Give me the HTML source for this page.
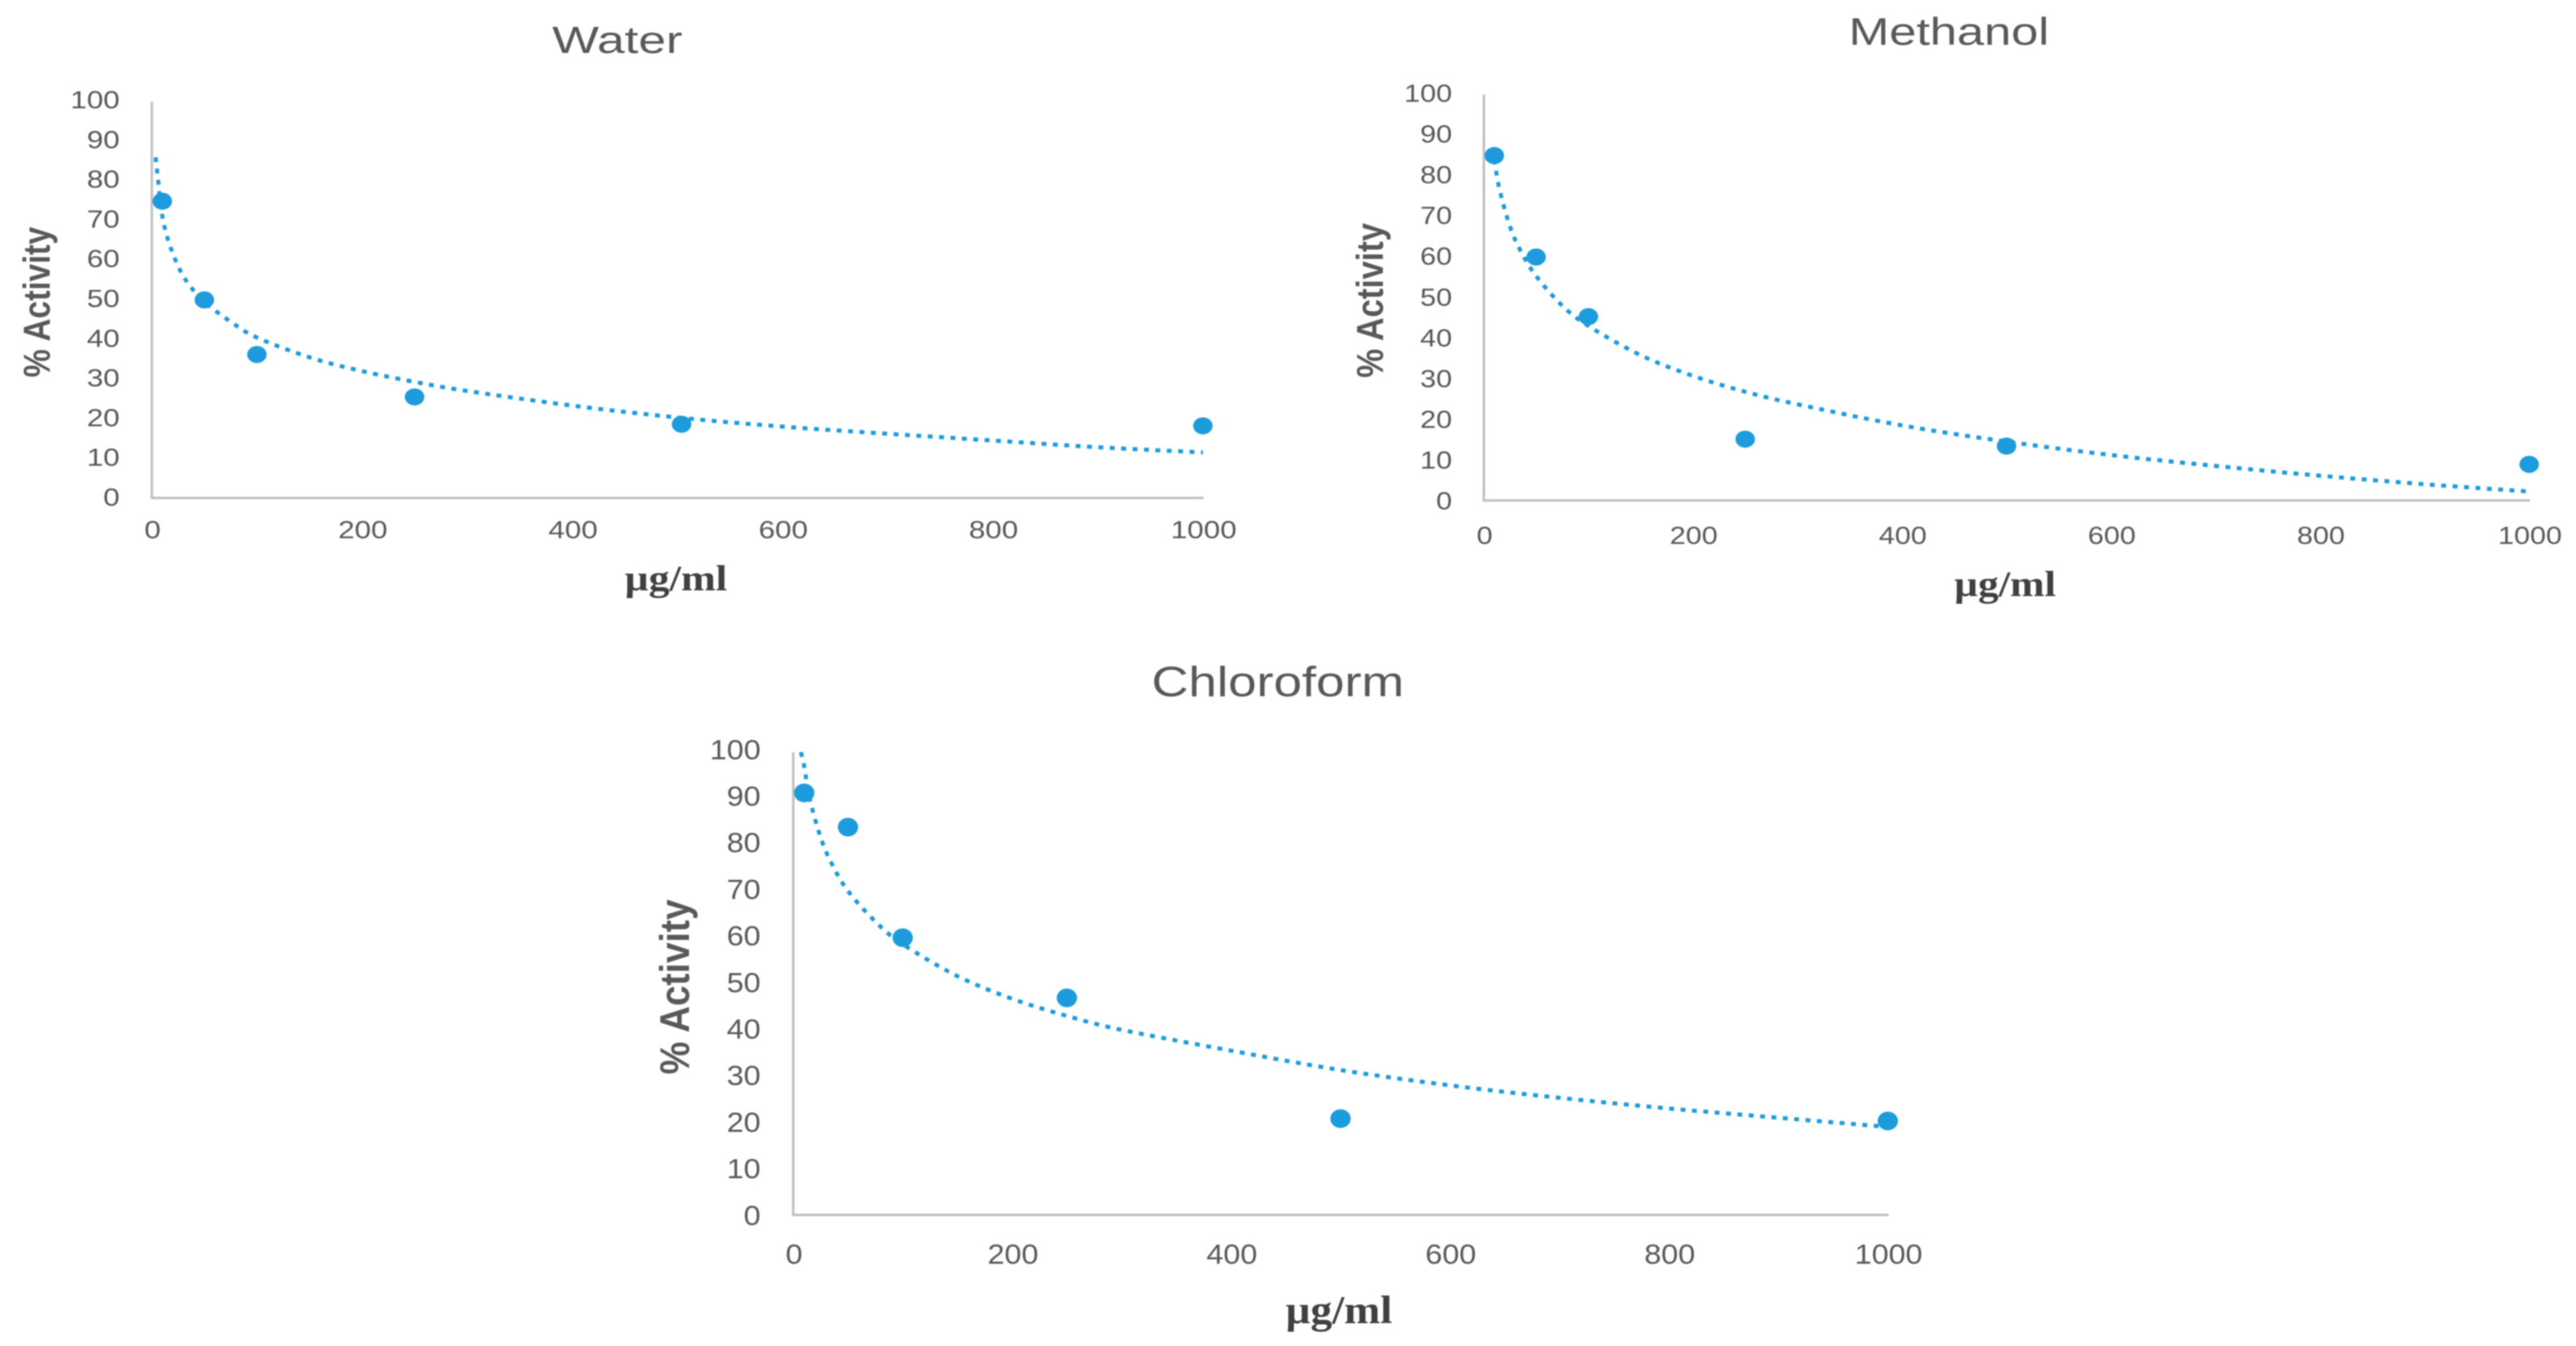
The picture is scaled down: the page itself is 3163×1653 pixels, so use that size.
<!DOCTYPE html>
<html lang="en">
<head>
<meta charset="utf-8">
<title>% Activity versus concentration</title>
<style>
html,body{margin:0;padding:0;background:#fff;width:3163px;height:1653px;overflow:hidden}
svg{display:block;filter:blur(0.7px)}
</style>
</head>
<body>
<svg id="figure" xmlns="http://www.w3.org/2000/svg" width="3163" height="1653" viewBox="0 0 3163 1653"></svg>
<script>
// Shared axis ticks
const xTickLabels = [0, 200, 400, 600, 800, 1000];
const yTickLabels = [0, 10, 20, 30, 40, 50, 60, 70, 80, 90, 100];

// Water
const waterConcentrations = [10, 50, 100, 250, 504, 1000];
const waterActivity = [74.9, 50, 36.2, 25.5, 18.6, 18.2];
const waterTrendX = [3.6, 4.6, 5.4, 6.4, 9.2, 15, 25, 35, 50, 75, 100, 150, 200, 250, 300, 400, 500, 600, 700, 800, 900, 1000];
const waterTrendY = [86, 83.7, 81.4, 79.2, 72.4, 65.5, 58.5, 54, 49.5, 44.5, 40.5, 35.5, 32, 29.3, 27, 23.3, 20.3, 18, 16.2, 14.5, 12.8, 11.5];

// Methanol
const methanolConcentrations = [10, 50, 100, 250, 500, 1000];
const methanolActivity = [85, 60, 45.3, 15.1, 13.4, 8.9];
const methanolTrendX = [10, 15, 25, 35, 50, 75, 100, 150, 200, 250, 300, 400, 500, 600, 700, 800, 900, 1000];
const methanolTrendY = [84, 76.6, 67.5, 61.6, 55.3, 48, 43, 35.8, 30.7, 26.8, 23.7, 18.5, 14.5, 11.2, 8.5, 6.1, 4, 2.2];

// Chloroform
const chloroformConcentrations = [10, 50, 100, 250, 500, 1000];
const chloroformActivity = [91.2, 83.8, 59.9, 46.9, 20.8, 20.3];
const chloroformTrendX = [7, 10, 15, 25, 35, 50, 75, 100, 150, 200, 250, 300, 400, 500, 600, 700, 800, 900, 1000];
const chloroformTrendY = [100, 97, 90, 81.6, 76, 70, 63.4, 58.5, 51.6, 46.7, 43, 40, 35.5, 31.3, 28, 25.3, 23, 21, 19];

const SVG_NS = 'http://www.w3.org/2000/svg';
const figure = document.getElementById('figure');
const TEXT_GREY = '#595959';
const AXIS_GREY = '#bfbfbf';
const BLUE = '#1e9bdc';

function make(tag, parent, props) {
  const el = document.createElementNS(SVG_NS, tag);
  Object.keys(props).forEach(function (k) { el.setAttribute(k, props[k]); });
  parent.appendChild(el);
  return el;
}

function stretchedText(parent, str, x, y, size, length, family, weight, color, rotate) {
  const t = make('text', parent, {
    x: x, y: y,
    'font-size': size,
    'font-family': family,
    'font-weight': weight,
    fill: color,
    'text-anchor': 'middle',
    textLength: length,
    lengthAdjust: 'spacingAndGlyphs'
  });
  if (rotate) t.setAttribute('transform', 'rotate(-90 ' + x + ' ' + y + ')');
  t.textContent = str;
  return t;
}

// Catmull-Rom smoothing through the plotted trend points
function smoothPath(p) {
  let d = 'M' + p[0][0].toFixed(1) + ' ' + p[0][1].toFixed(1);
  for (let i = 0; i < p.length - 1; i++) {
    const a = p[Math.max(0, i - 1)], b = p[i], c = p[i + 1], e = p[Math.min(p.length - 1, i + 2)];
    const c1x = b[0] + (c[0] - a[0]) / 6, c1y = b[1] + (c[1] - a[1]) / 6;
    const c2x = c[0] - (e[0] - b[0]) / 6, c2y = c[1] - (e[1] - b[1]) / 6;
    d += 'C' + c1x.toFixed(1) + ' ' + c1y.toFixed(1) + ' ' + c2x.toFixed(1) + ' ' + c2y.toFixed(1) + ' ' + c[0].toFixed(1) + ' ' + c[1].toFixed(1);
  }
  return d;
}

function drawPanel(panelName, title, concentrations, values, trendX, trendY, box) {
  const xScale = function (v) { return box.x0 + (v / 1000) * (box.x1 - box.x0); };
  const yScale = function (v) { return box.y0 - (v / 100) * (box.y0 - box.y100); };
  const sans = '"Liberation Sans", sans-serif';
  const serif = '"Liberation Serif", serif';

  const g = make('g', figure, {});
  
  

  const titleEl = stretchedText(g, title, box.titleX, box.titleY, box.titleSize, box.titleLen, sans, 400, TEXT_GREY, false);
  
  

  const yAxis = make('line', g, { x1: box.x0, x2: box.x0, y1: box.y100, y2: box.y0, stroke: AXIS_GREY, 'stroke-width': 3 });
  
  

  const xAxis = make('line', g, { x1: box.x0 - 1.5, x2: box.x1 + 1, y1: box.y0, y2: box.y0, stroke: AXIS_GREY, 'stroke-width': 3 });
  
  

  yTickLabels.forEach(function (tick) {
    const s = String(tick);
    const w = s.length * box.digitW;
    const cy = box.labelY0 - (tick / 100) * (box.labelY0 - box.labelY100);
    const label = stretchedText(g, s, box.labelRight - w / 2, cy + box.digitH / 2, box.tickSize, w, sans, 400, TEXT_GREY, false);
    
    
  });

  xTickLabels.forEach(function (tick) {
    const s = String(tick);
    const w = s.length * box.digitW;
    const label = stretchedText(g, s, xScale(tick) + 1, box.xLabelBase, box.tickSize, w, sans, 400, TEXT_GREY, false);
    
    
  });

  const yTitle = stretchedText(g, '% Activity', box.yTitleX, box.yTitleY, box.yTitleSize, box.yTitleLen, sans, 700, TEXT_GREY, true);
  
  

  const xTitle = stretchedText(g, 'µg/ml', box.xTitleX, box.xTitleY, box.xTitleSize, box.xTitleLen, serif, 700, '#404040', false);
  
  

  const pts = trendX.map(function (v, i) { return [xScale(v), yScale(trendY[i])]; });
  const trend = make('path', g, {
    d: smoothPath(pts), fill: 'none', stroke: BLUE, 'stroke-width': 5,
    'stroke-dasharray': '6 8'
  });
  
  

  concentrations.forEach(function (c, i) {
    const dot = make('ellipse', g, {
      cx: xScale(c), cy: yScale(values[i]), rx: box.rx, ry: box.ry, fill: BLUE
    });
    
    
  });
}

drawPanel('water', 'Water', waterConcentrations, waterActivity, waterTrendX, waterTrendY, {
  x0: 186.4, x1: 1477, y0: 611.5, y100: 125,
  labelY0: 610, labelY100: 122, labelRight: 147,
  digitW: 20.2, digitH: 22, tickSize: 31, xLabelBase: 661,
  titleX: 758, titleY: 65, titleSize: 46, titleLen: 160,
  yTitleX: 61, yTitleY: 371, yTitleSize: 46, yTitleLen: 185,
  xTitleX: 830, xTitleY: 725, xTitleSize: 44, xTitleLen: 126,
  rx: 12, ry: 10.5
});

drawPanel('methanol', 'Methanol', methanolConcentrations, methanolActivity, methanolTrendX, methanolTrendY, {
  x0: 1822, x1: 3105.5, y0: 614.6, y100: 116.3,
  labelY0: 614.6, labelY100: 114, labelRight: 1783,
  digitW: 19.6, digitH: 22, tickSize: 31, xLabelBase: 668,
  titleX: 2393, titleY: 55, titleSize: 47, titleLen: 246,
  yTitleX: 1698, yTitleY: 369, yTitleSize: 46, yTitleLen: 190,
  xTitleX: 2462, xTitleY: 732, xTitleSize: 44, xTitleLen: 125,
  rx: 12, ry: 10.5
});

drawPanel('chloroform', 'Chloroform', chloroformConcentrations, chloroformActivity, chloroformTrendX, chloroformTrendY, {
  x0: 974, x1: 2318, y0: 1492, y100: 923.7,
  labelY0: 1492, labelY100: 920, labelRight: 934,
  digitW: 20.8, digitH: 24.5, tickSize: 34, xLabelBase: 1552,
  titleX: 1569, titleY: 855, titleSize: 52, titleLen: 310,
  yTitleX: 846, yTitleY: 1212, yTitleSize: 51, yTitleLen: 215,
  xTitleX: 1644, xTitleY: 1625, xTitleSize: 49, xTitleLen: 131,
  rx: 12.5, ry: 11.5
});
</script>
</body>
</html>
